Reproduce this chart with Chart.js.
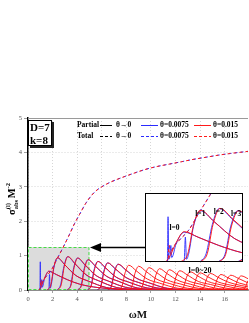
<!DOCTYPE html>
<html>
<head>
<meta charset="utf-8">
<script src="https://cdn.jsdelivr.net/npm/chart.js@4.4.0/dist/chart.umd.min.js"></script>
<style>
  html, body { margin: 0; padding: 0; background: #fff; }
  #wrap { position: relative; width: 249px; height: 323px; }
  #main { position: absolute; left: 0; top: 0; }
  #inset { position: absolute; left: 145px; top: 193px; }
</style>
</head>
<body>
<div id="wrap">
  <canvas id="main" width="249" height="323"></canvas>
  <canvas id="inset" width="98" height="69"></canvas>
</div>
<script>
// Legend labels / colours
const rowLabels = ['Partial', 'Total'];
const thetaLabels = ['θ→0', 'θ=0.0075', 'θ=0.015'];
const thetaColors = ['#000000', '#2b2bff', '#ff1a1a'];

// Total absorption cross section (dashed)
const totalX = [0.9, 1.0, 1.05, 1.1, 1.2, 1.5, 1.9, 2.3, 2.8, 3.3, 3.8, 4.2, 4.7, 5.4, 6.0, 6.8, 7.5, 8.5, 9.5, 10.5, 11.5, 12.5, 13.5, 14.5, 15.5, 16.5, 17.9];
const totalY = [0, 0.05, 0.3, 0.15, 0.25, 0.4, 0.58, 0.86, 1.2, 1.56, 1.94, 2.2, 2.52, 2.84, 3.0, 3.15, 3.25, 3.38, 3.5, 3.59, 3.66, 3.73, 3.8, 3.86, 3.92, 3.97, 4.03];

// Partial waves l=0..20, theta=0.015 (red)
const partialRed = [
  [[0.9,0],[1.1,0.12],[1.35,0.35],[1.7,0.55],[2.3,0.45],[3.2,0.3],[4.2,0.17],[5.7,0.07],[7.7,0.01]],
  [[1.55,0],[1.85,0.14],[2.1,0.66],[2.4,0.94],[3.0,0.73],[3.9,0.42],[4.9,0.26],[6.4,0.07],[8.4,0.01]],
  [[2.4,0],[2.7,0.15],[2.95,0.68],[3.25,0.97],[3.85,0.76],[4.75,0.44],[5.75,0.27],[7.25,0.07],[9.25,0.01]],
  [[3.2,0],[3.5,0.14],[3.75,0.65],[4.05,0.93],[4.65,0.73],[5.55,0.42],[6.55,0.26],[8.05,0.07],[10.05,0.01]],
  [[4.05,0],[4.35,0.13],[4.6,0.62],[4.9,0.88],[5.5,0.69],[6.4,0.4],[7.4,0.25],[8.9,0.06],[10.9,0.01]],
  [[4.85,0],[5.15,0.12],[5.4,0.58],[5.7,0.83],[6.3,0.65],[7.2,0.37],[8.2,0.23],[9.7,0.06],[11.7,0.01]],
  [[5.65,0],[5.95,0.12],[6.2,0.55],[6.5,0.79],[7.1,0.62],[8.0,0.36],[9.0,0.22],[10.5,0.06],[12.5,0.01]],
  [[6.5,0],[6.8,0.11],[7.05,0.53],[7.35,0.75],[7.95,0.59],[8.85,0.34],[9.85,0.21],[11.35,0.05],[13.35,0.01]],
  [[7.35,0],[7.65,0.11],[7.9,0.5],[8.2,0.72],[8.8,0.56],[9.7,0.32],[10.7,0.2],[12.2,0.05],[14.2,0.01]],
  [[8.15,0],[8.45,0.1],[8.7,0.48],[9.0,0.69],[9.6,0.54],[10.5,0.31],[11.5,0.19],[13.0,0.05],[15.0,0.01]],
  [[9.0,0],[9.3,0.1],[9.55,0.46],[9.85,0.65],[10.45,0.51],[11.35,0.29],[12.35,0.18],[13.85,0.05],[15.85,0.01]],
  [[9.85,0],[10.15,0.09],[10.4,0.43],[10.7,0.62],[11.3,0.48],[12.2,0.28],[13.2,0.17],[14.7,0.04],[16.7,0.01]],
  [[10.65,0],[10.95,0.09],[11.2,0.41],[11.5,0.59],[12.1,0.46],[13.0,0.27],[14.0,0.17],[15.5,0.04],[17.5,0.01]],
  [[11.5,0],[11.8,0.08],[12.05,0.39],[12.35,0.56],[12.95,0.44],[13.85,0.25],[14.85,0.16],[16.35,0.04],[18.35,0.01]],
  [[12.35,0],[12.65,0.08],[12.9,0.37],[13.2,0.53],[13.8,0.41],[14.7,0.24],[15.7,0.15],[17.2,0.04],[19.2,0.01]],
  [[13.15,0],[13.45,0.08],[13.7,0.35],[14.0,0.5],[14.6,0.39],[15.5,0.23],[16.5,0.14],[18.0,0.04]],
  [[14.0,0],[14.3,0.07],[14.55,0.34],[14.85,0.48],[15.45,0.37],[16.35,0.22],[17.35,0.13],[18.85,0.03]],
  [[14.85,0],[15.15,0.07],[15.4,0.32],[15.7,0.45],[16.3,0.35],[17.2,0.2],[18.2,0.12]],
  [[15.65,0],[15.95,0.06],[16.2,0.3],[16.5,0.43],[17.1,0.34],[18.0,0.19]],
  [[16.5,0],[16.8,0.06],[17.05,0.29],[17.35,0.41],[17.95,0.32]],
  [[17.35,0],[17.65,0.06],[17.9,0.27],[18.2,0.39]]
];

// Partial waves l=0..7, theta=0.0075 (blue), with the low-frequency spikes
const partialBlue = [
  [[0.9,0],[0.97,0.02],[1.0,0.82],[1.03,0.05],[1.08,0.1],[1.12,0.3],[1.16,0.08],[1.35,0.33],[1.7,0.54],[2.3,0.45],[3.2,0.3],[4.2,0.17],[5.7,0.07],[7.7,0.01]],
  [[1.55,0],[1.7,0.03],[1.75,0.45],[1.8,0.05],[1.9,0.16],[2.1,0.64],[2.4,0.93],[3.0,0.73],[3.9,0.42],[4.9,0.26],[6.4,0.07],[8.4,0.01]],
  [[2.37,0],[2.65,0.15],[2.92,0.68],[3.22,0.97],[3.82,0.76],[4.72,0.44],[5.72,0.27],[7.22,0.07],[9.22,0.01]],
  [[3.17,0],[3.47,0.14],[3.72,0.65],[4.02,0.93],[4.62,0.73],[5.52,0.42],[6.52,0.26],[8.02,0.07],[10.02,0.01]],
  [[4.02,0],[4.32,0.13],[4.57,0.62],[4.87,0.88],[5.47,0.69],[6.37,0.4],[7.37,0.25],[8.87,0.06],[10.87,0.01]],
  [[4.82,0],[5.12,0.12],[5.37,0.58],[5.67,0.83],[6.27,0.65],[7.17,0.37],[8.17,0.23],[9.67,0.06],[11.67,0.01]],
  [[5.62,0],[5.92,0.12],[6.17,0.55],[6.47,0.79],[7.07,0.62],[7.97,0.36],[8.97,0.22],[10.47,0.06],[12.47,0.01]],
  [[6.47,0],[6.77,0.11],[7.02,0.53],[7.32,0.75],[7.92,0.59],[8.82,0.34],[9.82,0.21],[11.32,0.05],[13.32,0.01]]
];

// inset partial-wave labels, in inset data coordinates
const insetLabels = ['l=0', 'l=1', 'l=2', 'l=3'];
const insetLabelX = [1.28, 2.4, 3.2, 3.95];
const insetLabelY = [0.62, 0.87, 0.9, 0.87];

const serif = 'Liberation Serif';

function buildDatasets() {
  const ds = [];
  const total = totalX.map((x, i) => [x, totalY[i]]);
  ds.push({ data: total, borderColor: thetaColors[2], borderWidth: 1, borderDash: [3, 3], borderDashOffset: 1, order: 0 });
  ds.push({ data: total, borderColor: thetaColors[1], borderWidth: 1, borderDash: [3, 3], order: 1 });
  partialRed.forEach(c => ds.push({ data: c, borderColor: 'rgba(255,10,10,0.9)', borderWidth: 1, order: 2 }));
  partialBlue.forEach(c => ds.push({ data: c, borderColor: thetaColors[1], borderWidth: 0.9, order: 3 }));
  ds.forEach(d => {
    d.pointRadius = 0;
    d.fill = false;
    d.cubicInterpolationMode = 'monotone';
  });
  return ds;
}

const boxPlugin = {
  id: 'zoomBox',
  beforeDatasetsDraw(chart) {
    const { ctx, scales: { x, y } } = chart;
    const x0 = x.getPixelForValue(0), x1 = x.getPixelForValue(5);
    const y0 = y.getPixelForValue(0), y1 = y.getPixelForValue(1.25);
    ctx.save();
    ctx.fillStyle = '#dcdcdc';
    ctx.fillRect(x0, y1, x1 - x0, y0 - y1);
    ctx.strokeStyle = '#44dd44';
    ctx.lineWidth = 1;
    ctx.setLineDash([3, 2]);
    ctx.strokeRect(x0 + 0.5, y1 + 0.5, x1 - x0 - 1, y0 - y1 - 1);
    ctx.restore();
  }
};

const decorPlugin = {
  id: 'decor',
  afterDraw(chart) {
    const { ctx, chartArea: a } = chart;
    ctx.save();
    // top frame line
    ctx.strokeStyle = '#9a9a9a';
    ctx.lineWidth = 1;
    ctx.beginPath();
    ctx.moveTo(a.left, a.top + 0.5);
    ctx.lineTo(a.right, a.top + 0.5);
    ctx.stroke();

    // D / k box with shadow
    ctx.fillStyle = '#222';
    ctx.fillRect(30, 122, 24, 26);
    ctx.fillStyle = '#fff';
    ctx.fillRect(28, 120, 24, 26);
    ctx.strokeStyle = '#000';
    ctx.strokeRect(28.5, 120.5, 23, 25);
    ctx.fillStyle = '#000';
    ctx.font = 'bold 11px "' + serif + '"';
    ctx.textBaseline = 'alphabetic';
    ctx.fillText('D=7', 30, 131);
    ctx.fillText('k=8', 30, 144);

    // legend
    ctx.font = 'bold 7.5px "' + serif + '"';
    ctx.textBaseline = 'middle';
    const rowY = [125, 136];
    const segs = [[100, 112], [141, 158], [194, 211]];
    const textX = [116, 160, 213];
    rowLabels.forEach((lab, r) => {
      ctx.fillStyle = '#000';
      ctx.fillText(lab, 77, rowY[r]);
      thetaLabels.forEach((t, i) => {
        ctx.strokeStyle = thetaColors[i];
        ctx.lineWidth = 1;
        ctx.setLineDash(r === 0 ? [] : [3, 2]);
        ctx.beginPath();
        ctx.moveTo(segs[i][0], rowY[r] + 0.5);
        ctx.lineTo(segs[i][1], rowY[r] + 0.5);
        ctx.stroke();
        ctx.setLineDash([]);
        ctx.fillStyle = '#000';
        ctx.fillText(t, textX[i], rowY[r]);
      });
    });

    // arrow from inset to grey box
    ctx.strokeStyle = '#000';
    ctx.lineWidth = 1.5;
    ctx.beginPath();
    ctx.moveTo(146, 247.5);
    ctx.lineTo(100, 247.5);
    ctx.stroke();
    ctx.fillStyle = '#000';
    ctx.beginPath();
    ctx.moveTo(90, 247.5);
    ctx.lineTo(101, 243);
    ctx.lineTo(101, 252);
    ctx.closePath();
    ctx.fill();

    // l=0~20 label
    ctx.font = 'bold 8px "' + serif + '"';
    ctx.textAlign = 'center';
    ctx.fillText('l=0~20', 200, 271);

    // y axis title, rotated
    ctx.translate(15, 199);
    ctx.rotate(-Math.PI / 2);
    ctx.textAlign = 'left';
    ctx.textBaseline = 'alphabetic';
    const big = 'bold 10.5px "' + serif + '"';
    const small = 'bold 6.5px "' + serif + '"';
    ctx.font = big; const wS = ctx.measureText('σ').width;
    ctx.font = small; const wSup = ctx.measureText('(l)').width, wSub = ctx.measureText('abs').width;
    ctx.font = big; const wM = ctx.measureText('M').width;
    ctx.font = small; const w2 = ctx.measureText('-2').width;
    const total = wS + Math.max(wSup, wSub) + 1.5 + wM + w2;
    let cx = -total / 2;
    ctx.font = big; ctx.fillText('σ', cx, 0); cx += wS;
    ctx.font = small; ctx.fillText('(l)', cx, -5); ctx.fillText('abs', cx, 3);
    cx += Math.max(wSup, wSub) + 1.5;
    ctx.font = big; ctx.fillText('M', cx, 0); cx += wM;
    ctx.font = small; ctx.fillText('-2', cx, -5);
    ctx.restore();
  }
};

const tickFont = { family: serif, size: 6.5 };

new Chart(document.getElementById('main'), {
  type: 'line',
  data: { datasets: buildDatasets() },
  options: {
    responsive: false,
    devicePixelRatio: 1,
    animation: false,
    events: [],
    layout: { padding: { top: 118, right: 1, left: 0, bottom: 0 } },
    plugins: { legend: { display: false }, tooltip: { enabled: false } },
    scales: {
      x: {
        type: 'linear', min: 0, max: 17.9,
        ticks: { stepSize: 2, includeBounds: false, font: tickFont, color: '#555', padding: 2, maxRotation: 0 },
        grid: { color: '#cccccc', lineWidth: 0.8, tickColor: '#888', tickLength: 3 },
        border: { color: '#8c8c8c', width: 2, dash: [1, 2] },
        title: { display: true, text: 'ωM', color: '#111', font: { family: serif, size: 11, weight: 'bold' }, padding: { top: 0, bottom: 1 } },
        afterFit(s) { s.height = 33; }
      },
      y: {
        min: 0, max: 5,
        ticks: { stepSize: 1, font: tickFont, color: '#555', padding: 2 },
        grid: { color: '#cccccc', lineWidth: 0.8, tickColor: '#888', tickLength: 4 },
        border: { color: '#000', width: 1.5, dash: [1, 2] },
        afterFit(s) { s.width = 28; }
      }
    }
  },
  plugins: [boxPlugin, decorPlugin]
});

const insetPlugin = {
  id: 'insetDecor',
  beforeDraw(chart) {
    const { ctx, width, height } = chart;
    ctx.save();
    ctx.fillStyle = '#fff';
    ctx.fillRect(0, 0, width, height);
    ctx.restore();
  },
  afterDraw(chart) {
    const { ctx, width, height, scales: { x, y } } = chart;
    ctx.save();
    ctx.strokeStyle = '#000';
    ctx.lineWidth = 1;
    ctx.strokeRect(0.5, 0.5, width - 1, height - 1);
    ctx.fillStyle = '#000';
    ctx.font = 'bold 7.5px "' + serif + '"';
    ctx.textAlign = 'center';
    ctx.textBaseline = 'middle';
    insetLabels.forEach((t, i) => {
      ctx.fillText(t, x.getPixelForValue(insetLabelX[i]), y.getPixelForValue(insetLabelY[i]));
    });
    ctx.restore();
  }
};

new Chart(document.getElementById('inset'), {
  type: 'line',
  data: { datasets: buildDatasets() },
  options: {
    responsive: false,
    devicePixelRatio: 1,
    animation: false,
    events: [],
    layout: { padding: 0 },
    plugins: { legend: { display: false }, tooltip: { enabled: false } },
    scales: {
      x: { type: 'linear', min: 0, max: 4.25, display: false },
      y: { min: 0, max: 1.25, display: false }
    }
  },
  plugins: [insetPlugin]
});
</script>
</body>
</html>
